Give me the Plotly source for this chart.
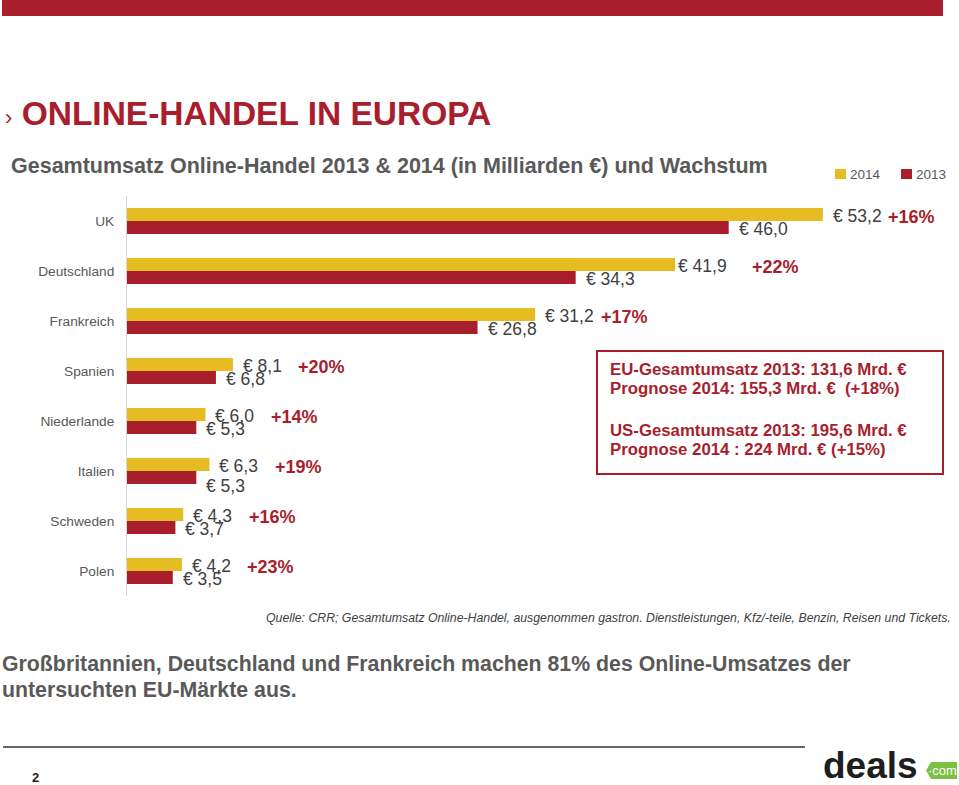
import plotly.graph_objects as go

# ---------------- data ----------------
countries = ["UK", "Deutschland", "Frankreich", "Spanien", "Niederlande", "Italien", "Schweden", "Polen"]
sales_2014 = [53.2, 41.9, 31.2, 8.1, 6.0, 6.3, 4.3, 4.2]
sales_2013 = [46.0, 34.3, 26.8, 6.8, 5.3, 5.3, 3.7, 3.5]
growth = ["+16%", "+22%", "+17%", "+20%", "+14%", "+19%", "+16%", "+23%"]
series_names = ["2014", "2013"]

# ---------------- style ----------------
YELLOW = "#E5BD22"
RED = "#A81E2D"
GRAY = "#595959"
DARK = "#404040"
FONT = "Liberation Sans, Arial, sans-serif"

W, H = 959, 785
ML, MR, MT, MB = 127, 21, 196, 189
PW, PH = W - ML - MR, H - MT - MB


def X(px):
    return (px - ML) / PW


def Y(py):
    return (H - MB - py) / PH


def fmt(v):
    return "€ " + f"{v:.1f}".replace(".", ",")


fig = go.Figure()
fig.add_trace(go.Bar(y=countries, x=sales_2014, orientation="h", name=series_names[0],
                     marker=dict(color=YELLOW, line=dict(width=0)), showlegend=False))
fig.add_trace(go.Bar(y=countries, x=sales_2013, orientation="h", name=series_names[1],
                     marker=dict(color=RED, line=dict(width=0)), showlegend=False))

ann = []
# value labels
xs14 = {"Deutschland": 1}
ys13 = {"Italien": -15}
for c, a, b, g in zip(countries, sales_2014, sales_2013, growth):
    ann.append(dict(x=a, y=c, xref="x", yref="y", text=fmt(a), showarrow=False,
                    xanchor="left", yanchor="middle", xshift=xs14.get(c, 8), yshift=5,
                    font=dict(family=FONT, size=17.5, color=DARK)))
    ann.append(dict(x=b, y=c, xref="x", yref="y", text=fmt(b), showarrow=False,
                    xanchor="left", yanchor="middle", xshift=8, yshift=ys13.get(c, -8),
                    font=dict(family=FONT, size=17.5, color=DARK)))
    ann.append(dict(x=a, y=c, xref="x", yref="y", text="<b>" + g + "</b>", showarrow=False,
                    xanchor="center", yanchor="middle", xshift=100 if c == "Deutschland" else 89,
                    yshift=4, font=dict(family=FONT, size=18, color=RED)))

# titles / texts
ann.append(dict(x=X(3), y=Y(113), xref="paper", yref="paper", xanchor="left", yanchor="middle",
                text="<span style='font-size:22px'>›</span> <b>ONLINE-HANDEL IN EUROPA</b>",
                showarrow=False, font=dict(family=FONT, size=33.5, color=RED)))
ann.append(dict(x=X(9), y=Y(166), xref="paper", yref="paper", xanchor="left", yanchor="middle",
                text="<b>Gesamtumsatz Online-Handel 2013 &amp; 2014 (in Milliarden €) und Wachstum</b>",
                showarrow=False, font=dict(family=FONT, size=21.5, color=GRAY)))

# legend (manual)
shapes = []
for sx, col, lbl in [(835, YELLOW, series_names[0]), (901, RED, series_names[1])]:
    shapes.append(dict(type="rect", xref="paper", yref="paper", x0=X(sx), x1=X(sx + 11),
                       y0=Y(179), y1=Y(169), fillcolor=col, line=dict(width=0)))
    ann.append(dict(x=X(sx + 13), y=Y(174), xref="paper", yref="paper", xanchor="left",
                    yanchor="middle", text=lbl, showarrow=False,
                    font=dict(family=FONT, size=13.5, color=GRAY)))

# info box
shapes.append(dict(type="rect", xref="paper", yref="paper", x0=X(597), x1=X(943), y0=Y(474), y1=Y(351),
                   line=dict(color=RED, width=2), fillcolor="rgba(0,0,0,0)"))
for ty, t in [(369, "EU-Gesamtumsatz 2013: 131,6 Mrd. €"),
              (388, "Prognose 2014: 155,3 Mrd. €  (+18%)"),
              (430, "US-Gesamtumsatz 2013: 195,6 Mrd. €"),
              (449, "Prognose 2014 : 224 Mrd. € (+15%)")]:
    ann.append(dict(x=X(608), y=Y(ty), xref="paper", yref="paper", xanchor="left", yanchor="middle",
                    text="<b>" + t + "</b>", showarrow=False,
                    font=dict(family=FONT, size=16.8, color=RED)))

# source
ann.append(dict(x=X(953), y=Y(618), xref="paper", yref="paper", xanchor="right", yanchor="middle",
                text="<i>Quelle: CRR; Gesamtumsatz Online-Handel, ausgenommen gastron. Dienstleistungen, Kfz/-teile, Benzin, Reisen und Tickets.</i>",
                showarrow=False, font=dict(family=FONT, size=12.3, color=DARK)))

# bottom statement
ann.append(dict(x=X(0), y=Y(664), xref="paper", yref="paper", xanchor="left", yanchor="middle",
                text="<b>Großbritannien, Deutschland und Frankreich machen 81% des Online-Umsatzes der</b>",
                showarrow=False, font=dict(family=FONT, size=21.3, color=GRAY)))
ann.append(dict(x=X(0), y=Y(690), xref="paper", yref="paper", xanchor="left", yanchor="middle",
                text="<b>untersuchten EU-Märkte aus.</b>",
                showarrow=False, font=dict(family=FONT, size=21.3, color=GRAY)))

# page number
ann.append(dict(x=X(35), y=Y(777), xref="paper", yref="paper", xanchor="center", yanchor="middle",
                text="<b>2</b>", showarrow=False, font=dict(family=FONT, size=13, color="#222222")))

# logo
ann.append(dict(x=X(821), y=Y(765), xref="paper", yref="paper", xanchor="left", yanchor="middle",
                text="<b>deals</b>", showarrow=False,
                font=dict(family="Liberation Sans Narrow, " + FONT, size=37, color="#1E1E1E")))
shapes.append(dict(type="path", xref="paper", yref="paper",
                   path=f"M {X(926)},{Y(770.5)} L {X(931)},{Y(762)} L {X(957)},{Y(762)} "
                        f"L {X(957)},{Y(779)} L {X(931)},{Y(779)} Z",
                   fillcolor="#7BC143", line=dict(width=0)))
ann.append(dict(x=X(942), y=Y(770.5), xref="paper", yref="paper", xanchor="center", yanchor="middle",
                text="·com", showarrow=False,
                font=dict(family="Liberation Sans Narrow, " + FONT, size=13, color="white")))

# top red band and separator line
shapes.append(dict(type="rect", xref="paper", yref="paper", x0=X(2), x1=X(943), y0=Y(16), y1=Y(0),
                   fillcolor=RED, line=dict(width=0)))
shapes.append(dict(type="line", xref="paper", yref="paper", x0=X(3), x1=X(805), y0=Y(747), y1=Y(747),
                   line=dict(color="#333333", width=1.5)))

fig.update_layout(
    width=W, height=H,
    margin=dict(l=ML, r=MR, t=MT, b=MB, pad=0),
    paper_bgcolor="white", plot_bgcolor="white",
    barmode="group", bargap=0.48, bargroupgap=0,
    xaxis=dict(range=[0, 62], visible=False, fixedrange=True),
    yaxis=dict(autorange="reversed", showline=True, linecolor="#D9D9D9", linewidth=1,
               showgrid=False, zeroline=False, ticks="", ticklabelstandoff=9,
               tickfont=dict(family=FONT, size=13.7, color=GRAY)),
    annotations=ann, shapes=shapes,
    font=dict(family=FONT),
)

fig.write_html("out.html", config={"displayModeBar": False},
               post_script="document.body.style.margin='0';document.body.style.overflow='hidden';")
